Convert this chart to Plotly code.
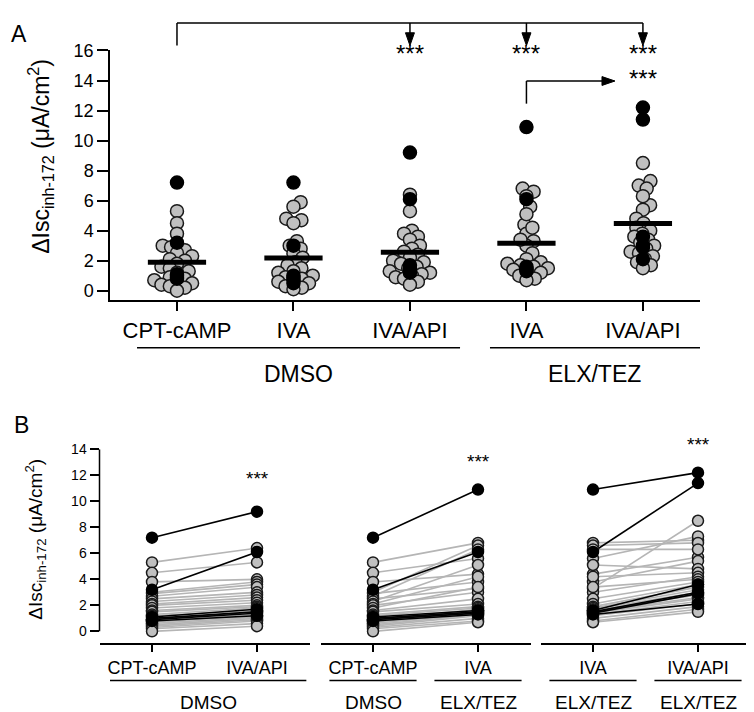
import plotly.graph_objects as go

W, H = 754, 712
OFF = 8  # page body margin of the html page
FONT = "Liberation Sans, Arial, Helvetica, sans-serif"

# ---------------- data ----------------
cond_labels_A = ["CPT-cAMP", "IVA", "IVA/API", "IVA", "IVA/API"]
group_labels_A = ["DMSO", "ELX/TEZ"]
yticks_A = [0, 2, 4, 6, 8, 10, 12, 14, 16]
yticks_B = [0, 2, 4, 6, 8, 10, 12, 14]

# first 6 subjects are the highlighted (black) ones
is_black = [True] * 6 + [False] * 24
cpt_dmso = [7.2, 3.2, 1.1, 1.0, 0.9, 0.8,
            5.3, 4.5, 3.8, 3.0, 2.9, 2.7, 2.5, 2.3, 2.1, 2.0, 1.8, 1.6,
            1.5, 1.3, 1.2, 0.9, 0.8, 0.7, 0.6, 0.5, 0.4, 0.3, 0.2, 0.0]
iva_dmso = [7.2, 3.0, 1.0, 0.9, 0.7, 0.5,
            5.9, 5.6, 4.8, 4.7, 4.5, 3.3, 3.0, 2.8, 2.5, 2.2, 1.9, 1.7,
            1.5, 1.3, 1.2, 1.0, 0.9, 0.8, 0.7, 0.6, 0.5, 0.3, 0.2, 0.1]
api_dmso = [9.2, 6.1, 1.7, 1.5, 1.4, 1.2,
            6.4, 5.3, 4.0, 3.8, 3.6, 3.4, 3.0, 2.8, 2.6, 2.4, 2.2, 2.0,
            1.9, 1.8, 1.6, 1.5, 1.3, 1.2, 1.1, 1.0, 0.9, 0.8, 0.6, 0.4]
iva_elx = [10.9, 6.1, 1.6, 1.5, 1.4, 1.3,
           6.8, 5.6, 4.4, 6.6, 3.8, 6.3, 3.3, 5.1, 4.2, 3.0, 3.4, 2.5,
           2.1, 1.9, 1.8, 1.7, 1.6, 1.5, 1.4, 1.3, 1.2, 1.0, 0.8, 0.7]
api_elx = [12.2, 11.4, 3.6, 3.0, 2.9, 2.1,
           7.0, 7.3, 5.7, 6.8, 5.4, 6.3, 8.5, 4.8, 4.5, 4.2, 4.0, 3.8,
           3.6, 3.4, 3.2, 3.0, 2.8, 2.6, 2.5, 2.3, 2.1, 1.9, 1.7, 1.5]

series_A = [cpt_dmso, iva_dmso, api_dmso, iva_elx, api_elx]
# panel B pairs: (left, right, left label, right label, left group, right group)
pairs_B = [
    (cpt_dmso, api_dmso, "CPT-cAMP", "IVA/API", "DMSO", "DMSO"),
    (cpt_dmso, iva_elx, "CPT-cAMP", "IVA", "DMSO", "ELX/TEZ"),
    (iva_elx, api_elx, "IVA", "IVA/API", "ELX/TEZ", "ELX/TEZ"),
]

# ---------------- helpers (page pixel -> paper) ----------------
def py(p):
    return 1 - (p - OFF) / H

def px(p):
    return (p - OFF) / W

GRAY = "#c0c0c0"
EDGE = "#1a1a1a"

# axis geometry (panel A), page pixels
A_x0, A_x1 = 110, 700
A_ytop, A_ybot = 41, 294
A_xrange = [-0.575, 4.49]
A_yrange = [-0.59, 16]
A_pxx = (A_x1 - A_x0) / (A_xrange[1] - A_xrange[0])
A_pxy = (A_ybot - A_ytop) / (A_yrange[1] - A_yrange[0])


def swarm(vals, d):
    """beeswarm offsets (in x data units) for values, marker spacing d px"""
    order = sorted(range(len(vals)), key=lambda i: vals[i])
    placed = []
    res = [0.0] * len(vals)
    for i in order:
        y = vals[i] * A_pxy
        cand = [0.0]
        for (cx, cy) in placed:
            dy = abs(cy - y)
            if dy < d:
                dx = (d * d - dy * dy) ** 0.5
                cand += [cx + dx, cx - dx]
        cand.sort(key=lambda c: (abs(round(c, 6)), -c))
        for c in cand:
            if all((c - cx) ** 2 + (y - cy) ** 2 >= d * d - 1e-6 for cx, cy in placed):
                res[i] = c
                break
        placed.append((res[i], y))
    return [r / A_pxx for r in res]


fig = go.Figure()

# ---------------- panel A ----------------
for k, vals in enumerate(series_A):
    gvals = [v for v, b in zip(vals, is_black) if not b]
    bvals = [v for v, b in zip(vals, is_black) if b]
    offs = swarm(gvals, 8.5)
    fig.add_trace(go.Scatter(
        x=[k + o for o in offs], y=gvals, mode="markers", xaxis="x", yaxis="y",
        marker=dict(size=13, color=GRAY, line=dict(color=EDGE, width=1.5)),
        hoverinfo="y"))
    fig.add_trace(go.Scatter(
        x=[k] * len(bvals), y=bvals, mode="markers", xaxis="x", yaxis="y",
        marker=dict(size=13, color="black", line=dict(color="black", width=1.5)),
        hoverinfo="y"))
for k, vals in enumerate(series_A):
    m = sum(vals) / len(vals)
    fig.add_trace(go.Scatter(
        x=[k - 0.25, k + 0.25], y=[m, m], mode="lines", xaxis="x", yaxis="y",
        line=dict(color="black", width=5), hoverinfo="y"))

# ---------------- panel B ----------------
B_doms = [(99.5, 309.5), (320.5, 530.5), (540.5, 750.5)]
B_ytop, B_ybot = 446, 643
xnames = ["x2", "x3", "x4"]
for j, (L, R, *_l) in enumerate(pairs_B):
    xa = xnames[j]
    for black in (False, True):
        xs, ys = [], []
        for a, b, bl in zip(L, R, is_black):
            if bl == black:
                xs += [0, 1, None]
                ys += [a, b, None]
        fig.add_trace(go.Scatter(
            x=xs, y=ys, mode="lines", xaxis=xa, yaxis="y2",
            line=dict(color="black" if black else "#b5b5b5", width=1.6),
            hoverinfo="skip"))
    for black in (False, True):
        xs, ys = [], []
        for a, b, bl in zip(L, R, is_black):
            if bl == black:
                xs += [0, 1]
                ys += [a, b]
        fig.add_trace(go.Scatter(
            x=xs, y=ys, mode="markers", xaxis=xa, yaxis="y2",
            marker=dict(size=11, color="black" if black else GRAY,
                        line=dict(color="black" if black else EDGE, width=1.5)),
            hoverinfo="y"))

# ---------------- layout ----------------
axis_common = dict(showgrid=False, zeroline=False, showline=True, linecolor="black",
                   linewidth=1.5, ticks="outside", tickcolor="black", tickwidth=1.5,
                   fixedrange=True)

layout = dict(
    width=W, height=H, margin=dict(l=0, r=0, t=0, b=0),
    paper_bgcolor="white", plot_bgcolor="white", showlegend=False,
    font=dict(family=FONT, color="black"),
    xaxis=dict(axis_common, domain=[px(A_x0), px(A_x1)], range=A_xrange, anchor="y",
               tickvals=list(range(5)), ticktext=cond_labels_A, ticklen=10,
               tickfont=dict(size=22)),
    yaxis=dict(axis_common, domain=[py(A_ybot), py(A_ytop)], range=A_yrange, anchor="x",
               tickvals=yticks_A, ticklen=11, tickfont=dict(size=18)),
    yaxis2=dict(axis_common, showline=False, domain=[py(B_ybot), py(B_ytop)],
                range=[-0.91, 14], anchor="x2", tickvals=yticks_B, ticklen=9,
                tickfont=dict(size=14)),
)
for j, (L, R, ll, rl, lg, rg) in enumerate(pairs_B):
    key = "xaxis" + str(j + 2)
    layout[key] = dict(axis_common, domain=[px(B_doms[j][0]), px(B_doms[j][1])],
                       range=[-0.5, 1.5], anchor="y2", tickvals=[0, 1],
                       ticktext=[ll, rl], ticklen=7, tickfont=dict(size=18))
fig.update_layout(**layout)

shapes = []
ann = []
LW = 1.5
BLK = dict(color="black", width=LW)
# y axis line of panel B (stops at 0)
shapes.append(dict(type="line", xref="x2 domain", yref="y2", x0=0, x1=0, y0=0, y1=14,
                   line=BLK))

# group underlines, panel A
A_groups = [(-0.343, 2.43, group_labels_A[0]), (2.687, 4.49, group_labels_A[1])]
for x0, x1, lab in A_groups:
    shapes.append(dict(type="line", xref="x", yref="paper", x0=x0, x1=x1,
                       y0=py(343), y1=py(343), line=BLK))
    ann.append(dict(x=(x0 + x1) / 2, y=py(370), xref="x", yref="paper", text=lab,
                    showarrow=False, font=dict(size=23), xanchor="center", yanchor="middle"))

# group underlines, panel B
B_groups = [
    [(-0.4, 1.47, pairs_B[0][4])],
    [(-0.415, 0.415, pairs_B[1][4]), (0.585, 1.415, pairs_B[1][5])],
    [(-0.415, 0.415, pairs_B[2][4]), (0.585, 1.415, pairs_B[2][5])],
]
for j, grp in enumerate(B_groups):
    for x0, x1, lab in grp:
        shapes.append(dict(type="line", xref=xnames[j], yref="paper", x0=x0, x1=x1,
                           y0=py(681), y1=py(681), line=BLK))
        ann.append(dict(x=(x0 + x1) / 2, y=py(703), xref=xnames[j], yref="paper", text=lab,
                        showarrow=False, font=dict(size=19), xanchor="center", yanchor="middle"))

# significance bracket, panel A (lines + triangular arrow heads)
hw = 4.5 / A_pxx        # arrowhead half width (x units)
hl = 13                 # arrowhead length (px)
shapes.append(dict(type="line", xref="x", yref="paper", x0=0, x1=4, y0=py(13), y1=py(13),
                   line=BLK))
shapes.append(dict(type="line", xref="x", yref="paper", x0=0, x1=0, y0=py(13), y1=py(36),
                   line=BLK))
for k in (2, 3, 4):
    shapes.append(dict(type="line", xref="x", yref="paper", x0=k, x1=k, y0=py(13),
                       y1=py(36 - hl + 2), line=BLK))
    shapes.append(dict(type="path", xref="x", yref="paper",
                       path=f"M {k},{py(36)} L {k - hw},{py(36 - hl)} L {k + hw},{py(36 - hl)} Z",
                       fillcolor="black", line=dict(color="black", width=1)))
    ann.append(dict(x=k, y=py(44), xref="x", yref="paper", text="***", showarrow=False,
                    font=dict(size=24), xanchor="center", yanchor="middle"))
tipx = 3.76
shapes.append(dict(type="line", xref="x", yref="paper", x0=3, x1=3, y0=py(95), y1=py(72),
                   line=BLK))
shapes.append(dict(type="line", xref="x", yref="paper", x0=3, x1=tipx - (hl - 2) / A_pxx,
                   y0=py(72), y1=py(72), line=BLK))
shapes.append(dict(type="path", xref="x", yref="paper",
                   path=(f"M {tipx},{py(72)} L {tipx - hl / A_pxx},{py(72 - 4.5)} "
                         f"L {tipx - hl / A_pxx},{py(72 + 4.5)} Z"),
                   fillcolor="black", line=dict(color="black", width=1)))
ann.append(dict(x=4, y=py(69), xref="x", yref="paper", text="***", showarrow=False,
                font=dict(size=24), xanchor="center", yanchor="middle"))

# stars panel B
for j, ystar in enumerate([480, 462, 445]):
    ann.append(dict(x=1, y=py(ystar - 4), xref=xnames[j], yref="paper", text="***",
                    showarrow=False, font=dict(size=19), xanchor="center", yanchor="middle"))

# panel letters and y titles
ann.append(dict(x=px(OFF + 1), y=py(OFF + 1), xref="paper", yref="paper", text="A",
                showarrow=False, font=dict(size=23), xanchor="left", yanchor="top"))
ann.append(dict(x=px(21), y=py(421), xref="paper", yref="paper", text="B", showarrow=False,
                font=dict(size=23), xanchor="center", yanchor="middle"))
ann.append(dict(x=px(40), y=py(149), xref="paper", yref="paper",
                text="ΔIsc<sub>inh-172</sub> (μA/cm<sup>2</sup>)", textangle=-90,
                showarrow=False, font=dict(size=23), xanchor="center", yanchor="middle"))
ann.append(dict(x=px(36), y=py(538), xref="paper", yref="paper",
                text="ΔIsc<sub>inh-172</sub> (μA/cm<sup>2</sup>)", textangle=-90,
                showarrow=False, font=dict(size=19), xanchor="center", yanchor="middle"))

fig.update_layout(shapes=shapes, annotations=ann)
fig.write_html("out.html")
